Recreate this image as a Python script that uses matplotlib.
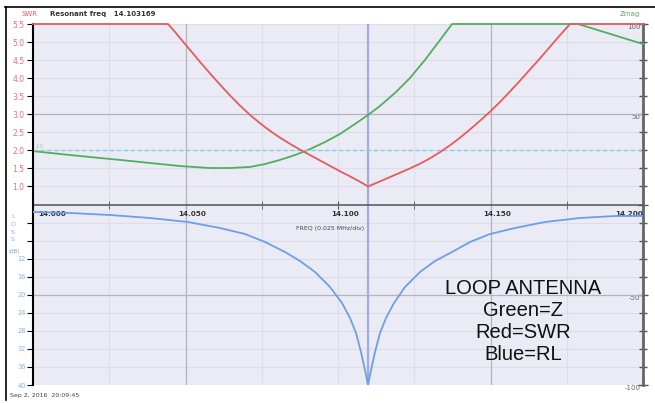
import matplotlib.pyplot as plt
from matplotlib.lines import Line2D

# values (frequency in MHz)
freq_swr = [14.0, 14.04426, 14.04656, 14.0482, 14.05148, 14.05475, 14.05803, 14.06131,
            14.06459, 14.06787, 14.07115, 14.07443, 14.0777, 14.08098, 14.08426, 14.08754,
            14.09082, 14.0941, 14.09738, 14.10066, 14.10393, 14.10721, 14.10984,
            14.11377, 14.11705, 14.12033, 14.12361, 14.12689, 14.13016, 14.13344, 14.13672,
            14.14, 14.14328, 14.14656, 14.14984, 14.15311, 14.15639, 14.15967, 14.16295,
            14.16623, 14.16951, 14.17279, 14.17607, 14.2]
swr = [5.5, 5.5, 5.28, 5.11, 4.78, 4.45, 4.13, 3.82,
       3.52, 3.24, 2.98, 2.75, 2.54, 2.35, 2.18, 2.02,
       1.87, 1.72, 1.57, 1.42, 1.28, 1.13, 1.0,
       1.14, 1.26, 1.38, 1.50, 1.63, 1.78, 1.95, 2.14,
       2.35, 2.58, 2.82, 3.07, 3.34, 3.63, 3.93, 4.24,
       4.55, 4.87, 5.19, 5.5, 5.5]

freq_z = [14.0, 14.00885, 14.01869, 14.02852, 14.03836, 14.0482, 14.05803, 14.06459,
          14.07115, 14.07607, 14.08098, 14.0859, 14.09082, 14.09574, 14.10066, 14.10557,
          14.10984, 14.11377, 14.11869, 14.12361, 14.12852, 14.13344, 14.13738, 14.17869, 14.2]
zmag = [29.6, 28.0, 26.3, 24.7, 23.0, 21.3, 20.2, 20.2,
        20.8, 22.4, 24.7, 27.4, 30.7, 34.6, 39.1, 44.6,
        49.6, 54.6, 61.8, 70.1, 80.1, 91.1, 100, 100, 88.9]

freq_rl = [14.0, 14.01213, 14.02525, 14.03836, 14.05082, 14.06131, 14.06951, 14.07607,
           14.08262, 14.08754, 14.09246, 14.09738, 14.10131, 14.10393, 14.1059, 14.10754,
           14.10885, 14.10984, 14.11082, 14.11213, 14.11377, 14.11574, 14.11836, 14.12197,
           14.12689, 14.1318, 14.13738, 14.14328, 14.14984, 14.15803, 14.16787, 14.17934,
           14.19082, 14.2]
rl = [1.66, 1.88, 2.33, 2.99, 3.88, 5.21, 6.54, 8.31,
      10.53, 12.52, 14.96, 18.28, 21.83, 25.15, 28.48, 32.69,
      36.68, 40.0, 36.68, 32.69, 28.48, 25.15, 21.83, 18.28,
      14.96, 12.52, 10.53, 8.31, 6.54, 5.21, 3.88, 2.99,
      2.55, 2.55]

res_freq = 14.10984
freq_ticks = [14.0, 14.05, 14.1, 14.15, 14.2]
freq_labels = ['14.000', '14.050', '14.100', '14.150', '14.200']
swr_ticks = [1.0, 1.5, 2.0, 2.5, 3.0, 3.5, 4.0, 4.5, 5.0, 5.5]
rl_ticks = [4, 8, 12, 16, 20, 24, 28, 32, 36, 40]
z_ticks = [100, 50, 0, -50, -100]
z_labels = ['100', '50', '', '-50', '-100']

red = '#E65A60'
green = '#52AE5C'
blue = '#6C9FE8'

fig = plt.figure(figsize=(6.55, 4.03), dpi=100)
ax_z = fig.add_axes([33/655, 18/403, 610/655, 361/403])
ax_z.set_facecolor('#EBEBF5')
ax_swr = ax_z.twinx()
ax_rl = ax_z.twinx()
ax_z.yaxis.tick_right()

# grid
ax_z.set_xlim(14.0, 14.2)
ax_z.set_ylim(-100, 100)
ax_z.set_xticks(freq_ticks)
ax_z.set_xticks([14.025, 14.075, 14.125, 14.175], minor=True)
ax_z.set_xticklabels([])
ax_z.set_yticks(z_ticks)
ax_z.set_yticklabels(z_labels)
ax_z.set_yticks(range(-90, 100, 10), minor=True)
ax_z.grid(which='both', color='#DCDCEA', lw=0.8)
for f in [14.05, 14.15]:
    ax_z.axvline(f, color='#B4B4BE', lw=0.9, zorder=1)
for z in [50, -50]:
    ax_z.axhline(z, color='#B4B4BE', lw=0.9, zorder=1)
ax_z.set_axisbelow(True)

ax_z.spines['top'].set_visible(False)
ax_z.spines['left'].set_visible(False)
ax_z.spines['right'].set_color('#666666')
ax_z.spines['right'].set_linewidth(2)
ax_z.spines['bottom'].set_position(('data', 0))
ax_z.spines['bottom'].set_color('#555555')
ax_z.spines['bottom'].set_linewidth(1.1)
ax_z.tick_params(axis='x', which='both', direction='inout', length=6, color='#555555')
ax_z.tick_params(axis='y', which='major', direction='inout', length=7, width=1,
                 color='#555555', labelsize=5, labelcolor='#666666', pad=-5.5)
ax_z.tick_params(axis='y', which='minor', direction='inout', length=6, width=1, color='#555555')
for t in ax_z.get_yticklabels():
    t.set_ha('right')
    t.set_va('top')

for f, lbl in zip(freq_ticks, freq_labels):
    ha = 'left' if f == 14.0 else ('right' if f == 14.2 else 'center')
    dx = 4 if f == 14.0 else (0 if f == 14.2 else 5)
    ax_z.annotate(lbl, (f, 0), xytext=(dx, -5), textcoords='offset points',
                  ha=ha, va='top', fontsize=5.2, fontweight='bold', color='#333333')
ax_z.annotate('FREQ (0.025 MHz/div)', (14.1, 0), xytext=(-6, -17), textcoords='offset points',
              ha='center', va='center', fontsize=4.5, color='#444444')

ax_z.axvline(res_freq, color='#A2A9E8', lw=1.6, zorder=1.5)
ax_z.plot(freq_z, zmag, color=green, lw=1.3, clip_on=False, zorder=3,
          solid_joinstyle='round')

# SWR scale (upper left)
ax_swr.set_ylim(-4.5, 5.5)
ax_swr.yaxis.tick_left()
ax_swr.set_yticks(swr_ticks)
ax_swr.set_yticklabels([f'{v:.1f}' for v in swr_ticks])
ax_swr.tick_params(axis='y', direction='out', length=4, color='black',
                   labelsize=5.5, labelcolor='#E8707A', pad=2)
for s in ['top', 'right', 'bottom']:
    ax_swr.spines[s].set_visible(False)
ax_swr.spines['left'].set_color('black')
ax_swr.spines['left'].set_linewidth(1.5)
ax_swr.axhline(2.0, color='#80CFE6', lw=1, ls=(0, (3, 2)))
ax_swr.text(14.001, 2.03, '2.0', fontsize=3.5, color='#9CCF9C', va='bottom')
ax_swr.plot(freq_swr, swr, color=red, lw=1.3, clip_on=False, zorder=4,
            solid_joinstyle='round')

# return loss scale (lower left)
ax_rl.set_ylim(40, -40)
ax_rl.yaxis.tick_left()
ax_rl.set_yticks(rl_ticks)
ax_rl.set_yticklabels(['' if v < 12 else str(v) for v in rl_ticks])
ax_rl.tick_params(axis='y', direction='out', length=4, color='black',
                  labelsize=4.8, labelcolor='#8FB0E0', pad=1)
for s in ax_rl.spines.values():
    s.set_visible(False)
ax_rl.plot(freq_rl, rl, color=blue, lw=1.3, zorder=4, solid_joinstyle='round')

for ch, y in zip(['L', 'O', 'S', 'S'], [217, 224, 232, 240]):
    fig.text(13/655, 1 - y/403, ch, fontsize=4.5, color='#8FB0E0', ha='center', va='center')
fig.text(14/655, 1 - 251/403, '(dB)', fontsize=4, color='#7F9FE0', ha='center', va='center')

# header / footer
fig.text(22/655, 1 - 14/403, 'SWR', fontsize=5, color=red, va='center')
fig.text(50/655, 1 - 14/403, 'Resonant freq   14.103169', fontsize=5, fontweight='bold',
         color='#333333', va='center')
fig.text(640/655, 1 - 14/403, 'Zmag', fontsize=5, color=green, ha='right', va='center')
fig.text(10/655, 1 - 395/403, 'Sep 2, 2016  20:09:45', fontsize=4.5, color='#444444', va='center')

for txt, y in zip(['LOOP ANTENNA', 'Green=Z', 'Red=SWR', 'Blue=RL'], [288, 311, 333, 355]):
    fig.text(523/655, 1 - y/403, txt, fontsize=14.5, color='#111111', ha='center', va='center',
             family=['Liberation Sans', 'DejaVu Sans'])

fig.add_artist(Line2D([5/655, 1], [1 - 7/403, 1 - 7/403], transform=fig.transFigure,
                      color='black', lw=1.2))
fig.add_artist(Line2D([6/655, 6/655], [1 - 7/403, 1 - 400/403], transform=fig.transFigure,
                      color='black', lw=1.2))

fig.savefig('out.png', dpi=100)
